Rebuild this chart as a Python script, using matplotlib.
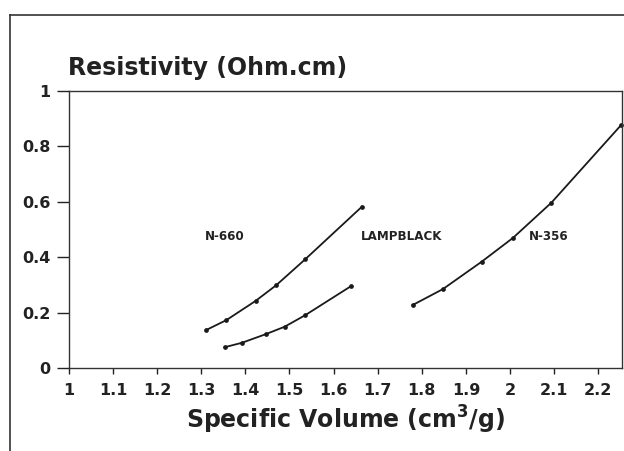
import matplotlib
matplotlib.use("Agg")
import matplotlib.pyplot as plt
from matplotlib.lines import Line2D

plt.rcParams['font.family'] = ['DejaVu Sans']

# Data
n660_x = [1.311, 1.357, 1.423, 1.470, 1.536, 1.664]
n660_y = [0.137, 0.173, 0.242, 0.299, 0.393, 0.582]
lamp_x = [1.353, 1.392, 1.446, 1.489, 1.536, 1.640]
lamp_y = [0.075, 0.091, 0.122, 0.149, 0.191, 0.296]
n356_x = [1.779, 1.848, 1.936, 2.007, 2.094, 2.252]
n356_y = [0.227, 0.285, 0.384, 0.470, 0.597, 0.877]

x_ticks = [1, 1.1, 1.2, 1.3, 1.4, 1.5, 1.6, 1.7, 1.8, 1.9, 2, 2.1, 2.2]
x_tick_labels = ['1', '1.1', '1.2', '1.3', '1.4', '1.5', '1.6', '1.7', '1.8', '1.9', '2', '2.1', '2.2']
y_ticks = [0, 0.2, 0.4, 0.6, 0.8, 1]
y_tick_labels = ['0', '0.2', '0.4', '0.6', '0.8', '1']

labels = ['N-660', 'LAMPBLACK', 'N-356']
label_x = [1.308, 1.662, 2.043]
label_y = [0.474, 0.474, 0.474]

fig = plt.figure(figsize=(6.24, 4.51), dpi=100)
fig.patch.set_facecolor('white')
ax = fig.add_axes([69/624, 1-368/451, (622-69)/624, (368-91)/451])

for xs, ys in [(n660_x, n660_y), (lamp_x, lamp_y), (n356_x, n356_y)]:
    ax.plot(xs, ys, color='#1a1a1a', lw=1.3, marker='o', ms=2.4, clip_on=False)

for t, lx, ly in zip(labels, label_x, label_y):
    ax.text(lx, ly, t, fontsize=8.6, fontweight='bold', color='#222222', va='center', ha='left')

ax.set_xlim(1, 2.254)
ax.set_ylim(0, 1)
ax.set_xticks(x_ticks)
ax.set_xticklabels(x_tick_labels)
ax.set_yticks(y_ticks)
ax.set_yticklabels(y_tick_labels)
for lab in ax.get_xticklabels() + ax.get_yticklabels():
    lab.set_fontweight('bold')
ax.tick_params(axis='both', direction='out', width=1, labelsize=11.5, colors='#222222')
ax.tick_params(axis='x', length=4, pad=7)
ax.tick_params(axis='y', length=8.5, pad=5)
for s in ax.spines.values():
    s.set_color('#333333')
    s.set_linewidth(1.0)

ax.set_xlabel('Specific Volume (cm$^\\mathbf{3}$/g)', fontsize=17, fontweight='bold', color='#222222', labelpad=4)
fig.text(68/624, 1-68/451, 'Resistivity (Ohm.cm)', fontsize=17, fontweight='bold', color='#222222', va='center', ha='left')

# outer frame of the scanned page
fig.add_artist(Line2D([10/624, 10/624], [0, 1-15/451], transform=fig.transFigure, color='#333333', lw=1.2))
fig.add_artist(Line2D([10/624, 1], [1-15/451, 1-15/451], transform=fig.transFigure, color='#333333', lw=1.2))

fig.savefig('out.png', dpi=100)
